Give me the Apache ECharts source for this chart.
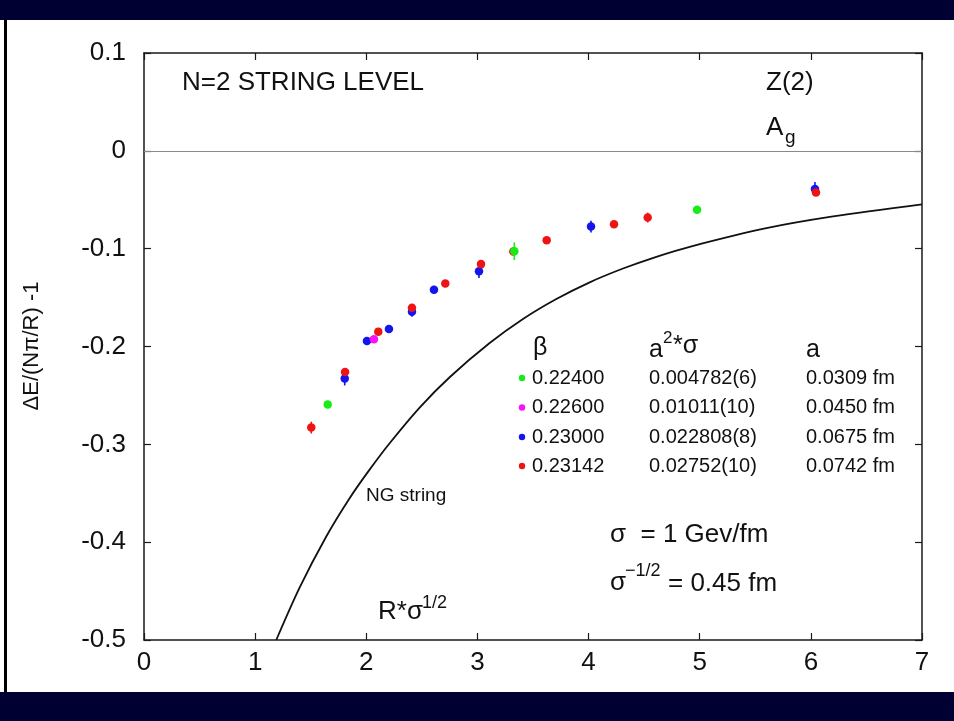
<!DOCTYPE html>
<html><head><meta charset="utf-8">
<script src="https://cdn.jsdelivr.net/npm/echarts@6/dist/echarts.min.js"></script>
<style>html,body{margin:0;padding:0;background:#fff}#c{width:954px;height:721px}</style>
</head><body><div id="c"></div>
<script>
// ---- data ----
const xTicks = [0, 1, 2, 3, 4, 5, 6, 7];
const yTicks = [0.1, 0, -0.1, -0.2, -0.3, -0.4, -0.5];

const betaLabels = ['0.22400', '0.22600', '0.23000', '0.23142'];
const a2sigmaLabels = ['0.004782(6)', '0.01011(10)', '0.022808(8)', '0.02752(10)'];
const aLabels = ['0.0309 fm', '0.0450 fm', '0.0675 fm', '0.0742 fm'];

// beta = 0.22400 (green)
const r22400 = [1.653, 3.332, 4.976];
const v22400 = [-0.2594, -0.1026, -0.0603];
const e22400 = [0.002, 0.009, 0.002];
// beta = 0.22600 (magenta)
const r22600 = [2.069];
const v22600 = [-0.1925];
const e22600 = [0.002];
// beta = 0.23000 (blue)
const r23000 = [1.806, 2.006, 2.204, 2.411, 2.609, 3.014, 4.022, 6.037];
const v23000 = [-0.2328, -0.1943, -0.1820, -0.1646, -0.1421, -0.1230, -0.0774, -0.0389];
const e23000 = [0.007, 0.003, 0.004, 0.005, 0.002, 0.007, 0.006, 0.007];
// beta = 0.23142 (red)
const r23142 = [1.505, 1.809, 2.108, 2.411, 2.711, 3.032, 3.323, 3.623, 4.229, 4.532, 6.046];
const v23142 = [-0.2829, -0.2260, -0.1848, -0.1605, -0.1357, -0.1158, -0.1030, -0.0913, -0.0750, -0.0682, -0.0426];
const e23142 = [0.006, 0.003, 0.002, 0.003, 0.002, 0.003, 0.003, 0.002, 0.004, 0.005, 0.003];

// NG string curve
const ngR = [1.19, 1.40, 1.64, 1.85, 2.02, 2.21, 2.48, 2.75, 3.11, 3.41, 3.71, 4.01, 4.31, 4.61, 4.91, 5.60, 6.20, 7.00];
const ngV = [-0.500, -0.4465, -0.3942, -0.3551, -0.3274, -0.2989, -0.2624, -0.2314, -0.1965, -0.1719, -0.1515, -0.1344, -0.1203, -0.1083, -0.0981, -0.0791, -0.0671, -0.0547];

// ---- styles ----
const COLORS = ['#16ec16', '#f614f6', '#1414ec', '#ee1414'];
const FONT = '"Liberation Sans", Arial, sans-serif';
const AXC = '#1a1a1a';

const chart = echarts.init(document.getElementById('c'), null, {renderer: 'canvas'});

function pts(xs, ys) { return xs.map((x, i) => [x, ys[i]]); }
function errSeries(xs, ys, es, color, z) {
  return {
    type: 'custom', z: z, silent: true, clip: false,
    data: xs.map((x, i) => [x, ys[i], es[i]]),
    encode: {x: 0, y: 1},
    renderItem: function (params, api) {
      const x = api.value(0), y = api.value(1), e = api.value(2);
      const p1 = api.coord([x, y - e]), p2 = api.coord([x, y + e]);
      return {type: 'line', shape: {x1: p1[0], y1: p1[1], x2: p2[0], y2: p2[1]},
              style: {stroke: color, lineWidth: 1.6}};
    }
  };
}
function scat(xs, ys, color, z) {
  return {type: 'scatter', z: z, silent: true, data: pts(xs, ys), symbol: 'circle', symbolSize: 8.5,
          itemStyle: {color: color, opacity: 1}};
}
function fmtY(v) {
  const r = Math.round(v * 10) / 10;
  return r === 0 ? '0' : r.toFixed(1);
}

const axisCommon = {
  type: 'value',
  axisLine: {show: true, onZero: false, lineStyle: {color: AXC, width: 1.5}},
  axisTick: {show: true, inside: true, length: 7, lineStyle: {color: AXC, width: 1.2}},
  splitLine: {show: false}
};

const graphics = [
  {type: 'rect', z: -10, shape: {x: 0, y: 0, width: 954, height: 20}, style: {fill: '#000033'}},
  {type: 'rect', z: -10, shape: {x: 0, y: 692, width: 954, height: 29}, style: {fill: '#000033'}},
  {type: 'rect', z: -10, shape: {x: 4, y: 20, width: 3, height: 672}, style: {fill: '#000000'}},
  {type: 'text', x: 32, y: 346, rotation: Math.PI / 2,
   style: {text: 'ΔE/(Nπ/R) -1', font: '22px ' + FONT, fill: '#111', align: 'center', verticalAlign: 'middle'}},
  {type: 'text', x: 182, y: 83, style: {text: 'N=2 STRING LEVEL', font: '26px ' + FONT, fill: '#111', verticalAlign: 'middle'}},
  {type: 'text', x: 766, y: 83, style: {text: 'Z(2)', font: '26px ' + FONT, fill: '#111', verticalAlign: 'middle'}},
  {type: 'text', x: 766, y: 128, style: {text: 'A', font: '26px ' + FONT, fill: '#111', verticalAlign: 'middle'}},
  {type: 'text', x: 785, y: 138, style: {text: 'g', font: '19px ' + FONT, fill: '#111', verticalAlign: 'middle'}},
  {type: 'text', x: 366, y: 496, style: {text: 'NG string', font: '19px ' + FONT, fill: '#111', verticalAlign: 'middle'}},
  {type: 'text', x: 378, y: 612, style: {text: 'R*σ', font: '26px ' + FONT, fill: '#111', verticalAlign: 'middle'}},
  {type: 'text', x: 422, y: 603, style: {text: '1/2', font: '18px ' + FONT, fill: '#111', verticalAlign: 'middle'}},
  {type: 'text', x: 610, y: 535, style: {text: 'σ  = 1 Gev/fm', font: '26px ' + FONT, fill: '#111', verticalAlign: 'middle'}},
  {type: 'text', x: 610, y: 583, style: {text: 'σ', font: '26px ' + FONT, fill: '#111', verticalAlign: 'middle'}},
  {type: 'text', x: 625, y: 571, style: {text: '−1/2', font: '18px ' + FONT, fill: '#111', verticalAlign: 'middle'}},
  {type: 'text', x: 668, y: 584, style: {text: '= 0.45 fm', font: '26px ' + FONT, fill: '#111', verticalAlign: 'middle'}},
  {type: 'text', x: 533, y: 348, style: {text: 'β', font: '25px ' + FONT, fill: '#111', verticalAlign: 'middle'}},
  {type: 'text', x: 649, y: 350, style: {text: 'a', font: '25px ' + FONT, fill: '#111', verticalAlign: 'middle'}},
  {type: 'text', x: 663, y: 338, style: {text: '2', font: '17px ' + FONT, fill: '#111', verticalAlign: 'middle'}},
  {type: 'text', x: 673, y: 346, style: {text: '*σ', font: '25px ' + FONT, fill: '#111', verticalAlign: 'middle'}},
  {type: 'text', x: 806, y: 350, style: {text: 'a', font: '25px ' + FONT, fill: '#111', verticalAlign: 'middle'}}
];
const rowY = [378, 407.5, 437, 466];
betaLabels.forEach((b, i) => {
  graphics.push({type: 'circle', shape: {cx: 522, cy: rowY[i], r: 3.2}, style: {fill: COLORS[i]}});
  graphics.push({type: 'text', x: 532, y: rowY[i], style: {text: b, font: '20px ' + FONT, fill: '#111', verticalAlign: 'middle'}});
  graphics.push({type: 'text', x: 649, y: rowY[i], style: {text: a2sigmaLabels[i], font: '20px ' + FONT, fill: '#111', verticalAlign: 'middle'}});
  graphics.push({type: 'text', x: 806, y: rowY[i], style: {text: aLabels[i], font: '20px ' + FONT, fill: '#111', verticalAlign: 'middle'}});
});

chart.setOption({
  animation: false,
  backgroundColor: '#ffffff',
  grid: {left: 144, right: 32, top: 53, bottom: 81, containLabel: false},
  xAxis: [
    Object.assign({}, axisCommon, {position: 'bottom', min: xTicks[0], max: xTicks[xTicks.length - 1], interval: 1,
      axisLabel: {show: true, fontSize: 26, fontFamily: FONT, color: '#111', margin: 10}}),
    Object.assign({}, axisCommon, {position: 'top', min: xTicks[0], max: xTicks[xTicks.length - 1], interval: 1,
      axisLabel: {show: false}})
  ],
  yAxis: [
    Object.assign({}, axisCommon, {position: 'left', min: yTicks[yTicks.length - 1], max: yTicks[0], interval: 0.1,
      axisLabel: {show: true, fontSize: 26, fontFamily: FONT, color: '#111', margin: 18, formatter: fmtY}}),
    Object.assign({}, axisCommon, {position: 'right', min: yTicks[yTicks.length - 1], max: yTicks[0], interval: 0.1,
      axisLabel: {show: false}})
  ],
  graphic: graphics,
  series: [
    {type: 'line', z: 2, silent: true, data: pts(ngR, ngV), smooth: 0.3, showSymbol: false, symbol: 'none',
     lineStyle: {color: '#111', width: 1.8},
     markLine: {silent: true, symbol: 'none', label: {show: false},
                lineStyle: {color: '#8a8a8a', type: 'solid', width: 1.2}, data: [{yAxis: 0}]}},
    errSeries(r23000, v23000, e23000, COLORS[2], 3), scat(r23000, v23000, COLORS[2], 3),
    errSeries(r23142, v23142, e23142, COLORS[3], 4), scat(r23142, v23142, COLORS[3], 4),
    errSeries(r22600, v22600, e22600, COLORS[1], 5), scat(r22600, v22600, COLORS[1], 5),
    errSeries(r22400, v22400, e22400, COLORS[0], 6), scat(r22400, v22400, COLORS[0], 6)
  ]
});
</script></body></html>
